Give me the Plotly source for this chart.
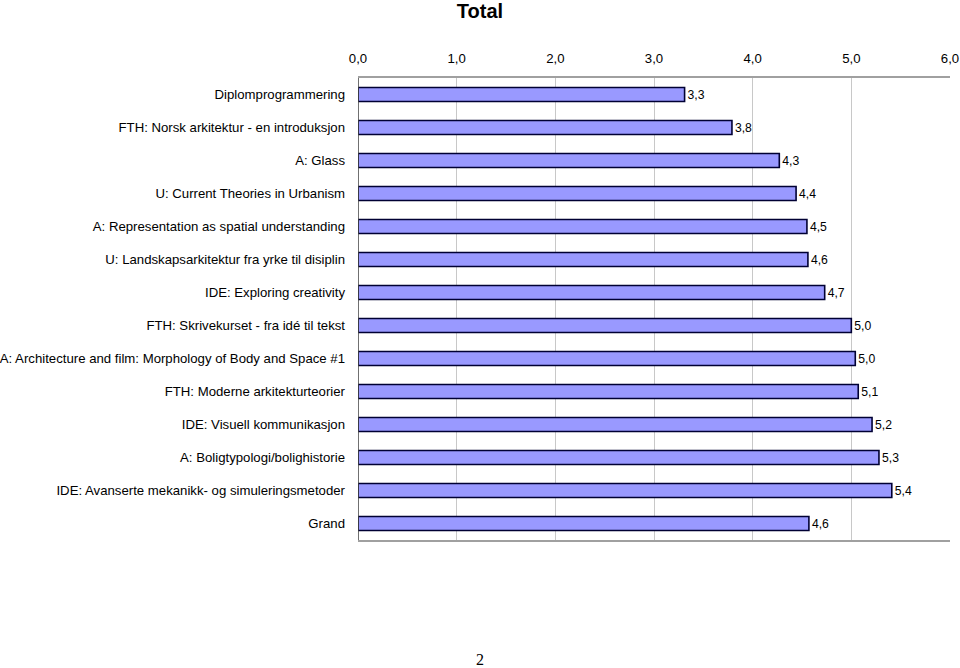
import plotly.graph_objects as go

categories = [
    "Diplomprogrammering",
    "FTH: Norsk arkitektur - en introduksjon",
    "A: Glass",
    "U: Current Theories in Urbanism",
    "A: Representation as spatial understanding",
    "U: Landskapsarkitektur fra yrke til disiplin",
    "IDE: Exploring creativity",
    "FTH: Skrivekurset - fra idé til tekst",
    "A: Architecture and film: Morphology of Body and Space #1",
    "FTH: Moderne arkitekturteorier",
    "IDE: Visuell kommunikasjon",
    "A: Boligtypologi/bolighistorie",
    "IDE: Avanserte mekanikk- og simuleringsmetoder",
    "Grand",
]
values = [3.31, 3.79, 4.27, 4.44, 4.55, 4.56, 4.73, 5.00, 5.04, 5.07, 5.21, 5.28, 5.41, 4.57]
tick_vals = [0, 1, 2, 3, 4, 5, 6]

W, H = 960, 668
ML, MR, MT, MB = 358, 10, 78, 128
FONT = "Liberation Sans, Arial"

fig = go.Figure(
    go.Bar(
        x=values,
        y=categories,
        orientation="h",
        width=0.42,
        marker=dict(color="#9999FF", line=dict(color="#000033", width=1.6)),
        texttemplate="%{x:.1f}",
        textposition="outside",
        textfont=dict(family=FONT, size=13.2, color="black"),
        cliponaxis=False,
    )
)

fig.update_layout(
    width=W,
    height=H,
    margin=dict(l=ML, r=MR, t=MT, b=MB, autoexpand=False),
    paper_bgcolor="white",
    plot_bgcolor="white",
    separators=", ",
    showlegend=False,
    font=dict(family=FONT, size=13.2, color="black"),
    title=dict(
        text="<b>Total</b>",
        x=480 / W,
        xanchor="center",
        xref="container",
        y=1 - 11 / H,
        yanchor="middle",
        font=dict(family=FONT, size=20, color="black"),
    ),
    annotations=[
        dict(
            text="2",
            xref="paper",
            yref="paper",
            x=(480 - ML) / (W - ML - MR),
            y=-(659 - (H - MB)) / (H - MT - MB),
            xanchor="center",
            yanchor="middle",
            showarrow=False,
            font=dict(family="Liberation Serif, DejaVu Serif", size=16, color="black"),
        )
    ],
)

fig.update_xaxes(
    side="top",
    range=[0, 6],
    tickvals=tick_vals,
    tickformat=".1f",
    showgrid=True,
    gridcolor="#C8C8C8",
    gridwidth=1,
    showline=True,
    linecolor="#A0A0A0",
    linewidth=1.5,
    mirror=True,
    ticks="",
    ticklabelstandoff=8,
    zeroline=False,
    automargin=False,
    tickfont=dict(family=FONT, size=13.2, color="black"),
)
fig.update_yaxes(
    autorange="reversed",
    showline=False,
    ticks="",
    ticklabelstandoff=12,
    automargin=False,
    tickfont=dict(family=FONT, size=13.2, color="black"),
)
fig.add_shape(
    type="line", xref="x", yref="paper", x0=0, x1=0, y0=0, y1=1,
    line=dict(color="#404040", width=1.5),
)

fig.write_html(
    "out.html",
    config={"displayModeBar": False},
    post_script="document.body.style.margin='0';",
)
